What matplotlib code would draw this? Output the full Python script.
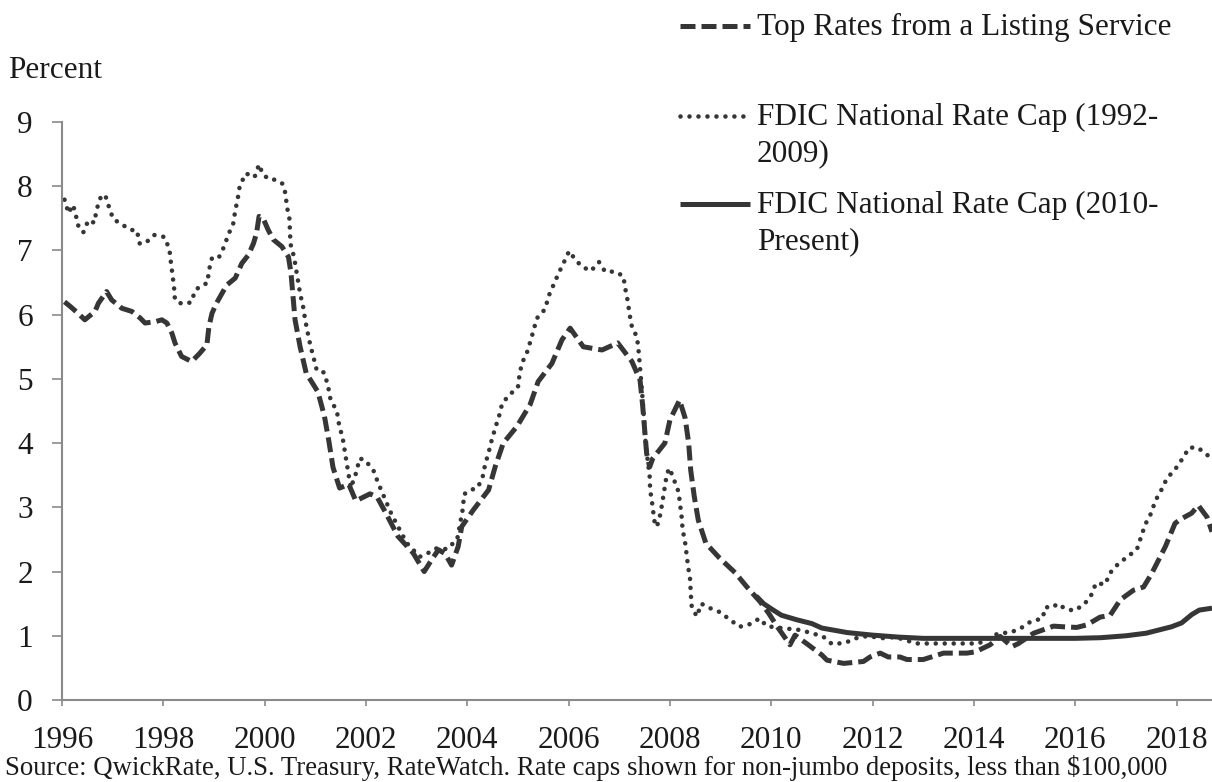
import matplotlib
matplotlib.use("Agg")
import matplotlib.pyplot as plt
from matplotlib.lines import Line2D

plt.rcParams["font.family"] = ["Liberation Serif", "DejaVu Serif"]

# Top rates from a listing service (dashed)
top_years = [1996.05, 1996.16, 1996.32, 1996.45, 1996.65, 1996.72, 1996.88, 1996.98,
             1997.18, 1997.38, 1997.54, 1997.64, 1997.84, 1997.97, 1998.07, 1998.17,
             1998.23, 1998.36, 1998.56, 1998.72, 1998.86, 1998.90, 1998.96, 1999.05,
             1999.25, 1999.42, 1999.55, 1999.68, 1999.78, 1999.84, 1999.89, 1999.97,
             2000.07, 2000.17, 2000.34, 2000.47, 2000.52, 2000.56, 2000.60, 2000.70,
             2000.82, 2001.05, 2001.18, 2001.27, 2001.35, 2001.48, 2001.66, 2001.80,
             2002.08, 2002.22, 2002.38, 2002.63, 2002.93, 2003.15, 2003.27, 2003.43,
             2003.56, 2003.69, 2003.82, 2003.89, 2004.12, 2004.42, 2004.55, 2004.71,
             2004.98, 2005.24, 2005.40, 2005.67, 2005.87, 2006.03, 2006.29, 2006.66,
             2006.97, 2007.25, 2007.41, 2007.46, 2007.50, 2007.54, 2007.60, 2007.66,
             2007.90, 2008.00, 2008.19, 2008.30, 2008.37, 2008.41, 2008.48, 2008.56,
             2008.71, 2008.98, 2009.29, 2009.52, 2009.78, 2009.95, 2010.12, 2010.21,
             2010.37, 2010.47, 2010.73, 2010.83, 2011.00, 2011.10, 2011.43, 2011.82,
             2011.95, 2012.15, 2012.31, 2012.54, 2012.68, 2013.00, 2013.40, 2013.86,
             2014.03, 2014.32, 2014.52, 2014.75, 2014.88, 2015.18, 2015.57, 2015.77,
             2016.03, 2016.23, 2016.49, 2016.69, 2016.89, 2017.15, 2017.35, 2017.51,
             2017.78, 2017.97, 2018.07, 2018.30, 2018.43, 2018.60, 2018.70]
top_rates = [6.20, 6.13, 6.02, 5.92, 6.05, 6.18, 6.36, 6.23,
             6.10, 6.05, 5.95, 5.87, 5.89, 5.92, 5.87, 5.71,
             5.56, 5.35, 5.27, 5.40, 5.53, 5.81, 6.02, 6.18,
             6.46, 6.57, 6.80, 6.93, 7.11, 7.27, 7.53, 7.50,
             7.32, 7.17, 7.06, 6.90, 6.65, 6.28, 5.92, 5.50,
             5.09, 4.80, 4.42, 4.02, 3.62, 3.30, 3.36, 3.10,
             3.21, 3.16, 2.93, 2.55, 2.29, 2.00, 2.15, 2.34,
             2.28, 2.10, 2.39, 2.70, 2.96, 3.27, 3.63, 4.00,
             4.26, 4.60, 4.96, 5.24, 5.61, 5.79, 5.50, 5.45,
             5.56, 5.27, 4.98, 4.60, 4.21, 3.84, 3.63, 3.76,
             4.00, 4.36, 4.67, 4.39, 4.00, 3.58, 3.17, 2.80,
             2.44, 2.21, 1.98, 1.76, 1.53, 1.35, 1.14, 1.04,
             0.86, 1.01, 0.86, 0.80, 0.70, 0.62, 0.57, 0.60,
             0.67, 0.73, 0.67, 0.67, 0.63, 0.63, 0.73, 0.73,
             0.75, 0.86, 0.99, 0.83, 0.88, 1.04, 1.15, 1.14,
             1.13, 1.17, 1.29, 1.32, 1.56, 1.71, 1.76, 1.97,
             2.39, 2.75, 2.81, 2.91, 3.03, 2.85, 2.62]

# FDIC national rate cap, 1992-2009 method (dotted)
cap_old_years = [1996.05, 1996.13, 1996.21, 1996.26, 1996.31, 1996.42, 1996.52, 1996.64,
                 1996.68, 1996.76, 1996.85, 1996.93, 1997.01, 1997.17, 1997.36, 1997.48,
                 1997.53, 1997.64, 1997.82, 1998.02, 1998.12, 1998.15, 1998.18, 1998.21,
                 1998.23, 1998.36, 1998.55, 1998.63, 1998.76, 1998.87, 1998.90, 1998.96,
                 1999.09, 1999.20, 1999.28, 1999.38, 1999.42, 1999.47, 1999.51, 1999.63,
                 1999.80, 1999.89, 1999.96, 2000.08, 2000.22, 2000.35, 2000.41, 2000.44,
                 2000.49, 2000.50, 2000.51, 2000.58, 2000.70, 2000.76, 2000.80, 2000.85,
                 2000.90, 2000.96, 2001.03, 2001.17, 2001.25, 2001.29, 2001.43, 2001.47,
                 2001.54, 2001.70, 2001.82, 2001.87, 2001.98, 2002.15, 2002.24, 2002.50,
                 2002.80, 2003.06, 2003.16, 2003.39, 2003.60, 2003.80, 2003.92, 2003.93,
                 2004.06, 2004.20, 2004.30, 2004.35, 2004.42, 2004.48, 2004.55, 2004.63,
                 2004.69, 2004.83, 2005.00, 2005.03, 2005.08, 2005.17, 2005.24, 2005.31,
                 2005.37, 2005.54, 2005.60, 2005.70, 2005.80, 2005.91, 2006.01, 2006.13,
                 2006.26, 2006.44, 2006.60, 2006.72, 2006.92, 2007.08, 2007.12, 2007.17,
                 2007.20, 2007.25, 2007.35, 2007.38, 2007.45, 2007.52, 2007.60, 2007.61,
                 2007.65, 2007.68, 2007.71, 2007.77, 2007.82, 2007.86, 2007.90, 2007.94,
                 2007.99, 2008.08, 2008.17, 2008.20, 2008.23, 2008.25, 2008.30, 2008.33,
                 2008.36, 2008.40, 2008.41, 2008.43, 2008.53, 2008.62, 2008.76, 2008.98,
                 2009.17, 2009.37, 2009.55, 2009.77, 2009.91, 2010.20, 2010.57, 2010.80,
                 2011.02, 2011.20, 2011.46, 2011.66, 2011.92, 2012.15, 2012.45, 2012.87,
                 2013.10, 2013.50, 2013.80, 2014.09, 2014.49, 2014.72, 2014.93, 2015.12,
                 2015.35, 2015.42, 2015.51, 2015.67, 2015.78, 2015.97, 2016.17, 2016.32,
                 2016.41, 2016.59, 2016.69, 2016.86, 2017.05, 2017.22, 2017.30, 2017.38,
                 2017.50, 2017.58, 2017.70, 2017.81, 2017.98, 2018.12, 2018.25, 2018.42,
                 2018.60, 2018.70]
cap_old = [7.79, 7.58, 7.71, 7.61, 7.40, 7.28, 7.47, 7.43,
           7.63, 7.82, 7.87, 7.67, 7.49, 7.41, 7.32, 7.31,
           7.11, 7.11, 7.24, 7.21, 7.02, 6.81, 6.62, 6.44,
           6.23, 6.17, 6.19, 6.38, 6.46, 6.49, 6.69, 6.88,
           6.88, 7.06, 7.24, 7.42, 7.62, 7.81, 8.01, 8.20,
           8.14, 8.34, 8.19, 8.11, 8.10, 8.04, 7.89, 7.68,
           7.49, 7.29, 7.10, 6.90, 6.33, 6.12, 5.92, 5.72,
           5.53, 5.35, 5.13, 5.10, 4.90, 4.71, 4.48, 4.28,
           4.08, 3.30, 3.57, 3.76, 3.74, 3.57, 3.38, 2.90,
           2.45, 2.23, 2.26, 2.36, 2.35, 2.50, 3.01, 3.20,
           3.27, 3.30, 3.46, 3.66, 3.85, 4.04, 4.23, 4.43,
           4.62, 4.75, 4.87, 5.06, 5.25, 5.39, 5.57, 5.76,
           5.94, 6.09, 6.28, 6.46, 6.64, 6.82, 6.99, 6.86,
           6.75, 6.68, 6.82, 6.67, 6.67, 6.60, 6.40, 6.20,
           6.02, 5.81, 5.65, 5.45, 4.80, 4.00, 3.48, 3.27,
           3.06, 2.87, 2.70, 2.75, 2.93, 3.13, 3.32, 3.52,
           3.61, 3.43, 3.24, 3.05, 2.86, 2.66, 2.45, 2.26,
           2.07, 1.87, 1.67, 1.46, 1.30, 1.50, 1.44, 1.37,
           1.26, 1.14, 1.17, 1.27, 1.15, 1.12, 1.09, 1.04,
           0.99, 0.87, 0.89, 0.96, 1.00, 0.96, 0.98, 0.88,
           0.88, 0.88, 0.88, 0.88, 1.04, 1.05, 1.12, 1.22,
           1.27, 1.45, 1.43, 1.50, 1.43, 1.39, 1.48, 1.64,
           1.82, 1.80, 1.98, 2.13, 2.24, 2.35, 2.54, 2.73,
           2.91, 3.10, 3.27, 3.45, 3.60, 3.76, 3.93, 3.93,
           3.82, 3.75]

# FDIC national rate cap, 2010-present method (solid)
cap_new_years = [2009.70, 2009.85, 2010.00, 2010.20, 2010.50, 2010.80, 2011.00, 2011.50,
                 2012.00, 2012.50, 2013.00, 2014.00, 2015.00, 2016.00, 2016.50, 2017.00,
                 2017.40, 2017.60, 2017.90, 2018.10, 2018.30, 2018.45, 2018.70]
cap_new = [1.62, 1.50, 1.42, 1.32, 1.25, 1.19, 1.12, 1.05,
           1.01, 0.98, 0.96, 0.96, 0.96, 0.96, 0.97, 1.00,
           1.04, 1.08, 1.14, 1.20, 1.33, 1.40, 1.43]

year_ticks = list(range(1996, 2019, 2))
line_color = "#363636"
text_color = "#1a1a1a"
dash_style = dict(lw=3.6, linestyle=(0, (3, 1.2)))
dot_style = dict(lw=3.3, linestyle=(0, (0.01, 1.95)), dash_capstyle="round")
solid_style = dict(lw=3.6, solid_capstyle="butt")

fig = plt.figure(figsize=(12.12, 7.82), dpi=100)
ax = fig.add_axes([62 / 1212, 1 - 700 / 782, 1 - 62 / 1212, (700 - 122) / 782])

ax.plot(top_years, top_rates, color=line_color, **dash_style)
ax.plot(cap_old_years, cap_old, color=line_color, **dot_style)
ax.plot(cap_new_years, cap_new, color=line_color, **solid_style)

ax.set_xlim(1996, 2018.7)
ax.set_ylim(0, 9)
ax.set_xticks(year_ticks)
ax.set_yticks(range(0, 10))
for side in ["top", "right"]:
    ax.spines[side].set_visible(False)
for side in ["left", "bottom"]:
    ax.spines[side].set_color("#8a8a8a")
    ax.spines[side].set_linewidth(1.5)
ax.tick_params(axis="y", length=7, width=1.2, color="#8a8a8a", pad=14,
               labelsize=22.5, labelcolor=text_color)
ax.tick_params(axis="x", length=4, width=1.2, color="#8a8a8a", pad=15,
               labelsize=22.5, labelcolor=text_color)

fig.text(8 / 1212, 1 - 70 / 782, "Percent", fontsize=22.5, color=text_color,
         ha="left", va="center")
fig.text(5 / 1212, 1 - 768 / 782,
         "Source: QwickRate, U.S. Treasury, RateWatch. Rate caps shown for non-jumbo deposits, less than $100,000",
         fontsize=19.3, color=text_color, ha="left", va="center")

# legend drawn by hand so handles sit on the first text line
legend_rows = [
    (26, ["Top Rates from a Listing Service"], dash_style),
    (116, ["FDIC National Rate Cap (1992-", "2009)"], dot_style),
    (204, ["FDIC National Rate Cap (2010-", "Present)"], solid_style),
]
for y_px, lines, style in legend_rows:
    fig.add_artist(Line2D([680 / 1212, 750 / 1212], [1 - y_px / 782] * 2,
                          color=line_color, transform=fig.transFigure, **style))
    for i, txt in enumerate(lines):
        fig.text(757 / 1212, 1 - (y_px + 1 + 37 * i) / 782, txt, fontsize=22.5,
                 color=text_color, ha="left", va="center")

fig.savefig("out.png", dpi=100)
